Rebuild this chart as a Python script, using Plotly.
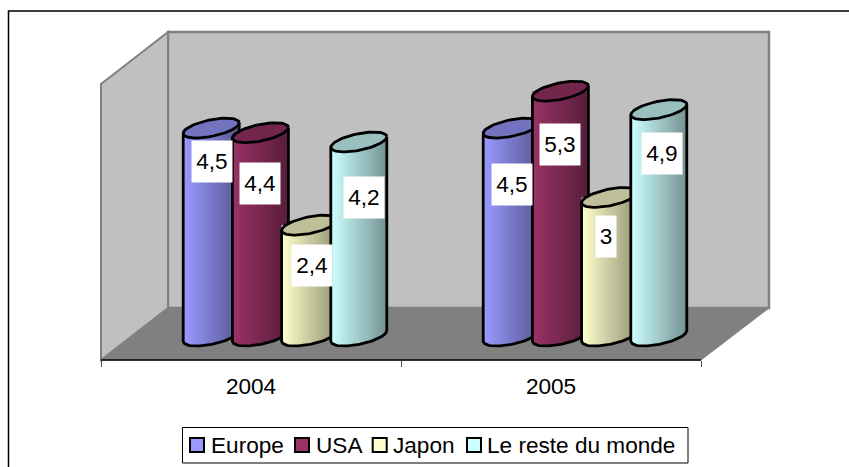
import math
import plotly.graph_objects as go

# ---- data ----
categories = ["2004", "2005"]
series_names = ["Europe", "USA", "Japon", "Le reste du monde"]
europe = [4.5, 4.5]
usa = [4.4, 5.3]
japon = [2.4, 3]
reste = [4.2, 4.9]

# ---- style ----
W, H = 849, 467
FONT = "Liberation Sans, Arial, sans-serif"
FS = 22.6
base_colors = [(0x99, 0x99, 0xFF), (0x99, 0x33, 0x66), (0xFF, 0xFF, 0xCC), (0xCC, 0xFF, 0xFF)]
label_x_px = [[211.5, 512], [260, 560], [312, 606], [364, 662]]
label_y_px = [[161.5, 184.5], [183.5, 144.5], [265.5, 236.5], [197.5, 153.5]]

series_values = [europe, usa, japon, reste]

# pixel geometry of the chart frame
AX_L, AX_R, AX_RW = 101, 701, 769   # axis left, axis right, back wall right
AX_T, AX_B = 32, 360                # back wall top, front axis line
FLOOR_BACK = 308
WALL_FRONT_TOP = 84
PX_PER_CAT = 300.0
PX_PER_UNIT = 46.2
ZERO_PX = 336.0
X0_PX = 251.0
DEPTH = 34.0 / PX_PER_CAT
GROUP_STEP = 49.2 / PX_PER_CAT
A_PX, S_PX, H_PX = 28.0, 5.3, 8.4   # cylinder half width; ellipse tilt; ellipse half height
N_STRIPS = 28
EDGE = 2.8


def fx(px):
    return px / W


def fy(py):
    return 1 - py / H


def rgb(c, k=1.0):
    return "rgb(%d,%d,%d)" % tuple(round(v * k) for v in c)


def poly(points):
    return "M" + "L".join("%.5f,%.5f" % (fx(a), fy(b)) for a, b in points) + "Z"


fig = go.Figure()


def dx(px):
    return px / PX_PER_CAT


def dy(px):
    return -px / PX_PER_UNIT


def front_curve(cx, val, u):
    """Data y of the front edge of an ellipse at relative position u in [-1, 1]."""
    return val + dy(-S_PX * u + H_PX * math.sqrt(max(0.0, 1 - u * u)))


for si, vals in enumerate(series_values):
    col = base_colors[si]
    off = (si - 1.5) * GROUP_STEP + DEPTH
    for ci, val in enumerate(vals):
        cx = ci + off
        # shaded body, strip by strip
        for k in range(N_STRIPS):
            u0 = -1 + 2 * k / N_STRIPS
            u1 = min(1.0, -1 + 2 * (k + 1) / N_STRIPS + 0.03)
            shade = 1 - 0.42 * (k / (N_STRIPS - 1))
            us = [u0 + (u1 - u0) * j / 3 for j in range(4)]
            xs = [cx + dx(A_PX * u0), cx + dx(A_PX * u1)]
            ys = [val, val]
            for u in reversed(us):
                xs.append(cx + dx(A_PX * u))
                ys.append(front_curve(cx, 0, u))
            xs.append(xs[0])
            ys.append(ys[0])
            fig.add_trace(go.Scatter(x=xs, y=ys, mode="lines", fill="toself",
                                     fillcolor=rgb(col, shade), line=dict(width=0),
                                     hoverinfo="skip", showlegend=False))
        # top cap and outline
        ts = [2 * math.pi * j / 72 for j in range(73)]
        ex = [cx + dx(A_PX * math.cos(t)) for t in ts]
        ey = [val + dy(-S_PX * math.cos(t) + H_PX * math.sin(t)) for t in ts]
        fig.add_trace(go.Scatter(x=ex, y=ey, mode="lines", fill="toself",
                                 fillcolor=rgb(col, 0.75),
                                 line=dict(color="black", width=EDGE),
                                 hoverinfo="skip", showlegend=False))
        bu = [-1 + 2 * j / 40 for j in range(41)]
        ox = [cx - dx(A_PX)] + [cx + dx(A_PX * u) for u in bu] + [cx + dx(A_PX)]
        oy = [front_curve(cx, val, -1)] + [front_curve(cx, 0, u) for u in bu] + [front_curve(cx, val, 1)]
        fig.add_trace(go.Scatter(x=ox, y=oy, mode="lines",
                                 line=dict(color="black", width=EDGE),
                                 hoverinfo="skip", showlegend=False))

shapes = []
# back wall, left wall, floor
shapes.append(dict(type="path", xref="paper", yref="paper", layer="below",
                   path=poly([(168, AX_T), (AX_RW, AX_T), (AX_RW, FLOOR_BACK), (168, FLOOR_BACK)]),
                   fillcolor="#C0C0C0", line=dict(color="#808080", width=2.5)))
shapes.append(dict(type="path", xref="paper", yref="paper", layer="below",
                   path=poly([(AX_L, WALL_FRONT_TOP), (168, AX_T), (168, FLOOR_BACK), (AX_L, AX_B)]),
                   fillcolor="#C0C0C0", line=dict(color="#808080", width=2)))
shapes.append(dict(type="path", xref="paper", yref="paper", layer="below",
                   path=poly([(AX_L, AX_B), (168, FLOOR_BACK), (AX_RW, FLOOR_BACK), (AX_R, AX_B)]),
                   fillcolor="#808080", line=dict(color="#808080", width=1)))
# front axis line and right floor edge
shapes.append(dict(type="line", xref="paper", yref="paper", layer="below",
                   x0=fx(AX_L), x1=fx(AX_R), y0=fy(AX_B), y1=fy(AX_B),
                   line=dict(color="black", width=1.5)))
# outer chart border (runs off the page on the right and bottom)
shapes.append(dict(type="rect", xref="paper", yref="paper", layer="below",
                   x0=fx(8.5), x1=fx(W + 20), y0=fy(11), y1=fy(H + 20),
                   line=dict(color="black", width=1.5), fillcolor="rgba(0,0,0,0)"))

annotations = []
# data labels
for si, vals in enumerate(series_values):
    for ci, val in enumerate(vals):
        txt = ("%g" % val).replace(".", ",")
        annotations.append(dict(x=fx(label_x_px[si][ci]), y=fy(label_y_px[si][ci]),
                                xref="paper", yref="paper", text=txt, showarrow=False,
                                xanchor="center", yanchor="middle",
                                width=40 if len(txt) > 1 else 20, height=41,
                                align="center", valign="middle", borderpad=0,
                                bgcolor="white", font=dict(family=FONT, size=FS, color="black")))

# legend box
LEG_L, LEG_R, LEG_T, LEG_B = 182.5, 688, 427.5, 463
shapes.append(dict(type="rect", xref="paper", yref="paper", x0=fx(LEG_L), x1=fx(LEG_R),
                   y0=fy(LEG_T), y1=fy(LEG_B), fillcolor="white",
                   line=dict(color="black", width=1)))
swatch_l = [190, 295, 372.7, 467]
text_l = [210, 314.7, 392, 486]
for nm, c, sl, tl in zip(series_names, base_colors, swatch_l, text_l):
    shapes.append(dict(type="rect", xref="paper", yref="paper", x0=fx(sl), x1=fx(sl + 14),
                       y0=fy(438), y1=fy(452), fillcolor=rgb(c),
                       line=dict(color="black", width=2)))
    annotations.append(dict(x=fx(tl), y=fy(445.5), xref="paper", yref="paper", text=nm,
                            showarrow=False, xanchor="left", yanchor="middle", borderpad=0,
                            font=dict(family=FONT, size=FS, color="black")))

fig.update_layout(
    width=W, height=H, margin=dict(l=0, r=0, t=0, b=0),
    paper_bgcolor="white", plot_bgcolor="rgba(0,0,0,0)",
    showlegend=False, shapes=shapes, annotations=annotations,
    font=dict(family=FONT, size=FS, color="black"),
    xaxis=dict(domain=[fx(AX_L), fx(AX_RW)],
               range=[(AX_L - X0_PX) / PX_PER_CAT, (AX_RW - X0_PX) / PX_PER_CAT],
               tickmode="array", tickvals=[0, 1], ticktext=categories,
               ticks="", showgrid=False, zeroline=False, showline=False,
               ticklabelstandoff=10,
               tickfont=dict(family=FONT, size=FS, color="black"),
               minor=dict(tickmode="array", tickvals=[-0.5, 0.5, 1.5], ticks="outside",
                          ticklen=6, tickwidth=1, tickcolor="#555555", showgrid=False)),
    yaxis=dict(domain=[fy(AX_B), fy(AX_T)],
               range=[(ZERO_PX - AX_B) / PX_PER_UNIT, (ZERO_PX - AX_T) / PX_PER_UNIT],
               visible=False),
)

fig.write_html("out.html", config=dict(displayModeBar=False),
               post_script="document.body.style.margin='0';document.body.style.overflow='hidden';")
